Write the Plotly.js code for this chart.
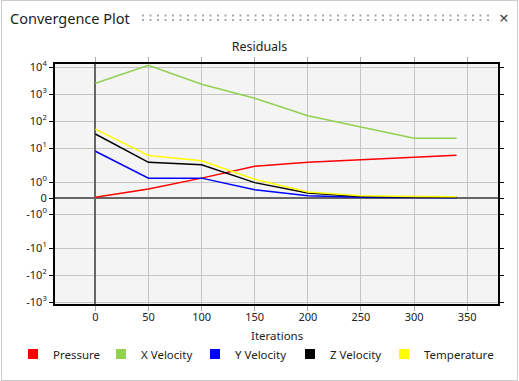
<!DOCTYPE html>
<html>
<head>
<meta charset="utf-8">
<script src="https://cdn.plot.ly/plotly-3.0.1.min.js"></script>
<style>
  html, body { margin: 0; padding: 0; background: #fff; }
  #wrap { position: relative; width: 519px; height: 381px; overflow: hidden; }
  #frame { position: absolute; left: 1px; top: 0; width: 517px; height: 381px; box-sizing: border-box; border: 1px solid #cdcdcd; pointer-events: none; }
</style>
</head>
<body>
<div id="wrap">
  <div id="chart" style="width:519px;height:381px;"></div>
  <div id="frame"></div>
</div>
<script>
// ---- data ----
const iterations  = [0, 50, 100, 150, 200, 250, 300, 340];
const pressure    = [0.05, 0.56, 1.3, 2.9, 3.8, 4.5, 5.4, 6.1];
const xVelocity   = [2500, 11500, 2300, 700, 157, 60, 23, 23];
const yVelocity   = [8, 1.3, 1.3, 0.52, 0.14, 0.05, 0.03, 0.02];
const zVelocity   = [33, 3.8, 3.2, 0.96, 0.31, 0.1, 0.06, 0.05];
const temperature = [50, 6, 4.2, 1.2, 0.38, 0.14, 0.09, 0.08];

const seriesNames  = ['Pressure', 'X Velocity', 'Y Velocity', 'Z Velocity', 'Temperature'];
const seriesColors = ['#ff0000', '#92d050', '#0000ff', '#000000', '#ffff00'];

const yTickValues = [10000, 1000, 100, 10, 1, 0, -1, -10, -100, -1000];
const yTickLabels = ['10<sup>4</sup>', '10<sup>3</sup>', '10<sup>2</sup>', '10<sup>1</sup>', '10<sup>0</sup>', '0',
                     '-10<sup>0</sup>', '-10<sup>1</sup>', '-10<sup>2</sup>', '-10<sup>3</sup>'];
const xTitle = 'Iterations';
const chartTitle = 'Residuals';
const panelTitle = 'Convergence Plot';

// symmetric-log style scale (Plotly has no symlog axis): linear inside |v|<=1, logarithmic outside
function symlog(v) {
  const a = Math.abs(v), s = Math.sign(v);
  if (a <= 1) return s * 16 * a;
  const L = Math.log10(a);
  return s * (16 + 34 * Math.min(L, 1) + 27 * Math.max(L - 1, 0));
}

const seriesValues = [pressure, xVelocity, yVelocity, zVelocity, temperature];

// legend entry widths (px) to reproduce the reference spacing; last entry goes in its own legend
const legendEntryWidths = [43, 49, 50, 49, null];

const traces = [];
seriesValues.forEach((vals, i) => {
  traces.push({
    type: 'scatter', mode: 'lines', x: iterations, y: vals.map(symlog),
    line: { color: seriesColors[i], width: 1.5 }, name: seriesNames[i], showlegend: false,
    hoverinfo: 'skip'
  });
});
seriesNames.forEach((n, i) => {
  const t = {
    type: 'scatter', mode: 'markers', x: [null], y: [null], name: n,
    marker: { symbol: 'square', size: 10, color: seriesColors[i] }, showlegend: true
  };
  if (legendEntryWidths[i] !== null) t.legendwidth = legendEntryWidths[i];
  else t.legend = 'legend2';
  traces.push(t);
});

// layout helpers (pixel -> paper coordinates)
const W = 519, H = 381, M = { l: 55, r: 21, t: 64, b: 77 };
const pw = W - M.l - M.r, ph = H - M.t - M.b;
const px = x => (x - M.l) / pw;
const py = y => (H - M.b - y) / ph;

const font = 'Noto Sans, Open Sans, sans-serif';
const legendFont = { family: font, size: 11.5, color: '#222' };

const layout = {
  width: W, height: H,
  margin: M,
  paper_bgcolor: 'rgba(0,0,0,0)',
  plot_bgcolor: '#f4f4f4',
  font: { family: font, size: 11, color: '#222' },
  title: { text: chartTitle, x: 0.5, xref: 'container', y: 1 - 47 / H, yref: 'container', yanchor: 'middle', xanchor: 'center',
           font: { family: font, size: 12.5, color: '#222' } },
  xaxis: {
    range: [-38, 379], tick0: 0, dtick: 50,
    showgrid: true, gridcolor: '#c4c4c4', gridwidth: 1,
    zeroline: true, zerolinecolor: '#666', zerolinewidth: 2,
    showline: true, linecolor: '#000', linewidth: 2, mirror: 'allticks',
    ticks: 'outside', ticklen: 5, tickcolor: '#aaa', tickwidth: 1,
    ticklabelstandoff: -3,
    tickfont: { family: font, size: 11, color: '#222' },
    automargin: false, fixedrange: true
  },
  yaxis: {
    range: [-106, 134],
    tickmode: 'array', tickvals: yTickValues.map(symlog), ticktext: yTickLabels,
    showgrid: true, gridcolor: '#c4c4c4', gridwidth: 1,
    zeroline: true, zerolinecolor: '#666', zerolinewidth: 2,
    showline: true, linecolor: '#000', linewidth: 2, mirror: 'allticks',
    ticks: 'outside', ticklen: 4, tickcolor: '#000', tickwidth: 1,
    tickfont: { family: font, size: 11, color: '#222' },
    automargin: false, fixedrange: true
  },
  showlegend: true,
  legend: {
    orientation: 'h', xref: 'container', yref: 'container',
    x: 13 / W, xanchor: 'left', y: 1 - 354 / H, yanchor: 'middle',
    entrywidthmode: 'pixels',
    font: legendFont, bgcolor: 'rgba(0,0,0,0)', borderwidth: 0
  },
  legend2: {
    orientation: 'h', xref: 'container', yref: 'container',
    x: 384 / W, xanchor: 'left', y: 1 - 354 / H, yanchor: 'middle',
    font: legendFont, bgcolor: 'rgba(0,0,0,0)', borderwidth: 0
  },
  shapes: [
    { type: 'line', xref: 'paper', yref: 'paper', x0: px(142), x1: px(492), y0: py(15.5), y1: py(15.5),
      line: { color: '#a8a8a8', width: 2, dash: '2px,5.5px' } },
    { type: 'line', xref: 'paper', yref: 'paper', x0: px(142), x1: px(492), y0: py(20), y1: py(20),
      line: { color: '#a8a8a8', width: 2, dash: '2px,5.5px' } }
  ],
  annotations: [
    { text: panelTitle, xref: 'paper', yref: 'paper', x: px(8), y: py(18), xanchor: 'left', yanchor: 'middle',
      showarrow: false, font: { family: font, size: 14.5, color: '#1e1e1e' } },
    { text: '×', xref: 'paper', yref: 'paper', x: px(504), y: py(17), xanchor: 'center', yanchor: 'middle',
      showarrow: false, font: { family: font, size: 17, color: '#444' } },
    { text: xTitle, xref: 'paper', yref: 'paper', x: px(277), y: py(335), xanchor: 'center', yanchor: 'middle',
      showarrow: false, font: { family: font, size: 11.5, color: '#222' } }
  ]
};

Plotly.newPlot('chart', traces, layout, { displayModeBar: false, staticPlot: true });
</script>
</body>
</html>
